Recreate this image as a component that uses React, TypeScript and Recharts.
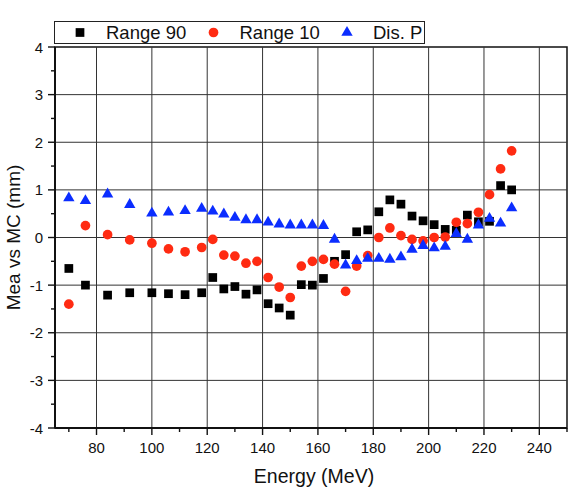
import {
  Legend,
  ReferenceArea,
  ReferenceLine,
  Scatter,
  ScatterChart,
  Symbols,
  XAxis,
  YAxis,
} from "recharts";

const energy = [
  70, 76, 84, 92, 100, 106, 112, 118, 122, 126, 130, 134, 138, 142, 146, 150, 154, 158,
  162, 166, 170, 174, 178, 182, 186, 190, 194, 198, 202, 206, 210, 214, 218, 222, 226, 230,
];

const range90 = [
  -0.65, -1.0, -1.21, -1.16, -1.16, -1.18, -1.2, -1.16, -0.84, -1.08, -1.03, -1.19, -1.1, -1.39,
  -1.48, -1.63, -0.99, -1.0, -0.86, -0.5, -0.36, 0.12, 0.16, 0.54, 0.79, 0.7, 0.45, 0.35, 0.27,
  0.17, 0.15, 0.47, 0.33, 0.34, 1.09, 1.0,
];

const range10 = [
  -1.4, 0.25, 0.06, -0.05, -0.12, -0.24, -0.3, -0.21, -0.04, -0.37, -0.39, -0.54, -0.5, -0.84,
  -1.04, -1.26, -0.6, -0.5, -0.46, -0.56, -1.13, -0.6, -0.38, 0.0, 0.2, 0.04, -0.04, -0.07, 0.0,
  0.01, 0.32, 0.29, 0.53, 0.9, 1.44, 1.82,
];

const disP = [
  0.83, 0.77, 0.91, 0.69, 0.51, 0.53, 0.56, 0.61, 0.55, 0.49, 0.42, 0.37, 0.37, 0.32, 0.28, 0.26,
  0.26, 0.26, 0.25, -0.04, -0.58, -0.49, -0.44, -0.44, -0.46, -0.41, -0.25, -0.17, -0.22, -0.19,
  0.08, -0.04, 0.26, 0.4, 0.3, 0.62,
];

const xMajor = [80, 100, 120, 140, 160, 180, 200, 220, 240];
const xTicks = [70, 80, 90, 100, 110, 120, 130, 140, 150, 160, 170, 180, 190, 200, 210, 220, 230, 240, 250];
const yMajor = [-4, -3, -2, -1, 0, 1, 2, 3, 4];
const yTicks = [-4, -3.5, -3, -2.5, -2, -1.5, -1, -0.5, 0, 0.5, 1, 1.5, 2, 2.5, 3, 3.5, 4];
const yGrid = [-3, -2, -1, 0, 1, 2, 3];

const FONT = "'Liberation Sans', Arial, sans-serif";
const RED = "#ff2b12";
const BLUE = "#0b2dff";

const toRows = (vals: number[]) => energy.map((e, i) => ({ energy: e, value: vals[i] }));

const shapeOf = (type: "square" | "circle" | "triangle", size: number, fill: string) =>
  (props: any) => <Symbols cx={props.cx} cy={props.cy} type={type} size={size} fill={fill} />;

function XTick({ x, y, payload }: any) {
  const major = xMajor.includes(payload.value);
  return (
    <g>
      <line x1={x} x2={x} y1={y} y2={y + (major ? 7 : 4)} stroke="#111" strokeWidth={1.4} />
      {major && (
        <text x={x} y={y + 25} textAnchor="middle" fontFamily={FONT} fontSize={15} fill="#111">
          {payload.value}
        </text>
      )}
    </g>
  );
}

function YTick({ x, y, payload }: any) {
  const major = yMajor.includes(payload.value);
  return (
    <g>
      <line x1={x} x2={x - (major ? 7 : 4)} y1={y} y2={y} stroke="#111" strokeWidth={1.4} />
      {major && (
        <text x={x - 12} y={y + 5.5} textAnchor="end" fontFamily={FONT} fontSize={15} fill="#111">
          {payload.value}
        </text>
      )}
    </g>
  );
}

function LegendBox() {
  const items = [
    { label: "Range 90", type: "square" as const, size: 76, fill: "#000" },
    { label: "Range 10", type: "circle" as const, size: 74, fill: RED },
    { label: "Dis. P", type: "triangle" as const, size: 56, fill: BLUE },
  ];
  return (
    <svg width={371} height={23} style={{ display: "block" }}>
      <rect x={0.5} y={0.5} width={370} height={22} fill="#fff" stroke="#222" strokeWidth={1} />
      {items.map((it, i) => (
        <g key={it.label}>
          <Symbols cx={26 + i * 133.5} cy={11.5} type={it.type} size={it.size} fill={it.fill} />
          <text x={52 + i * 133.5} y={18} fontFamily={FONT} fontSize={18.5} fill="#111">
            {it.label}
          </text>
        </g>
      ))}
    </svg>
  );
}

export default function App() {
  return (
    <div style={{ position: "absolute", left: 0, top: 0, width: 577, height: 500, background: "#fff" }}>
      <ScatterChart width={577} height={500} margin={{ top: 47, right: 10, bottom: 12, left: 10 }}>
        {xMajor.map((v) => (
          <ReferenceLine key={`vx${v}`} x={v} stroke="#333" strokeWidth={1} />
        ))}
        {yGrid.map((v) => (
          <ReferenceLine key={`hy${v}`} y={v} stroke="#333" strokeWidth={1} />
        ))}
        <XAxis
          type="number"
          dataKey="energy"
          domain={[65, 250]}
          ticks={xTicks}
          interval={0}
          allowDataOverflow
          height={60}
          tickSize={0}
          tickMargin={0}
          tickLine={false}
          tick={<XTick />}
          axisLine={{ stroke: "#111", strokeWidth: 2 }}
          label={{
            content: ({ viewBox }: any) => (
              <text
                x={viewBox.x + viewBox.width / 2 + 3}
                y={viewBox.y + 55}
                textAnchor="middle"
                fontFamily={FONT}
                fontSize={19.5}
                fill="#111"
              >
                Energy (MeV)
              </text>
            ),
          }}
        />
        <YAxis
          type="number"
          dataKey="value"
          domain={[-4, 4]}
          ticks={yTicks}
          interval={0}
          allowDataOverflow
          width={45}
          tickSize={0}
          tickMargin={0}
          tickLine={false}
          tick={<YTick />}
          axisLine={{ stroke: "#111", strokeWidth: 2 }}
          label={{
            content: ({ viewBox }: any) => {
              const cx = viewBox.x + 10;
              const cy = viewBox.y + viewBox.height / 2;
              return (
                <text
                  x={cx}
                  y={cy}
                  transform={`rotate(-90 ${cx} ${cy})`}
                  textAnchor="middle"
                  fontFamily={FONT}
                  fontSize={19}
                  fill="#111"
                >
                  Mea vs MC (mm)
                </text>
              );
            },
          }}
        />
        <ReferenceArea
          x1={65}
          x2={250}
          y1={-4}
          y2={4}
          fill="none"
          stroke="#111"
          strokeWidth={1.5}
          ifOverflow="visible"
        />
        <Legend
          verticalAlign="middle"
          align="center"
          layout="horizontal"
          content={() => <LegendBox />}
          wrapperStyle={{ top: 21, left: 54, width: 371, height: 23 }}
        />
        <Scatter
          name="Range 90"
          data={toRows(range90)}
          shape={shapeOf("square", 76, "#000")}
          isAnimationActive={false}
        />
        <Scatter
          name="Range 10"
          data={toRows(range10)}
          shape={shapeOf("circle", 74, RED)}
          isAnimationActive={false}
        />
        <Scatter
          name="Dis. P"
          data={toRows(disP)}
          shape={shapeOf("triangle", 56, BLUE)}
          isAnimationActive={false}
        />
      </ScatterChart>
    </div>
  );
}
